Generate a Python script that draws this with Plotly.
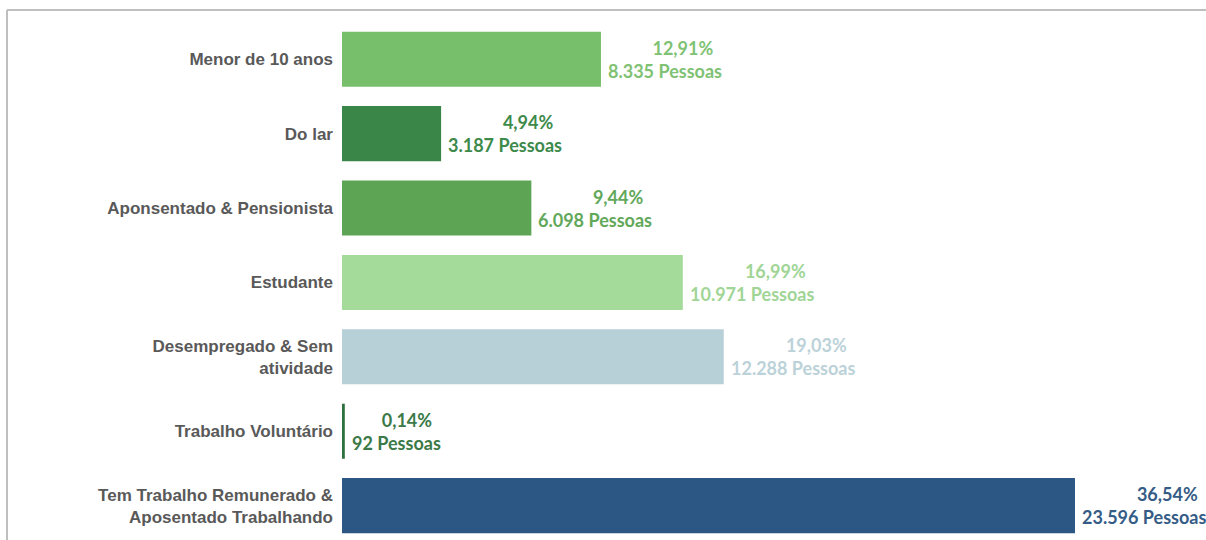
import plotly.graph_objects as go

# Occupation breakdown: share of people (%) and headcount per category
categorias = [
    "Menor de 10 anos",
    "Do lar",
    "Aponsentado & Pensionista",
    "Estudante",
    "Desempregado & Sem<br>atividade",
    "Trabalho Voluntário",
    "Tem Trabalho Remunerado &<br>Aposentado Trabalhando",
]
percentuais = [12.91, 4.94, 9.44, 16.99, 19.03, 0.14, 36.54]
pessoas = [8335, 3187, 6098, 10971, 12288, 92, 23596]
cores_barras = ["#78BF6C", "#3A8548", "#5DA555", "#A4DA9A", "#B7D0D7", "#2F7040", "#2C5784"]
cores_rotulos = ["#7FC274", "#3D8A4B", "#62A85A", "#A0D596", "#BCD2D9", "#3B7A48", "#355C86"]


def fmt_pct(v):
    return f"{v:.2f}".replace(".", ",") + "%"


def fmt_int(v):
    return f"{v:,}".replace(",", ".")


idx = list(range(len(categorias)))

fig = go.Figure(
    go.Bar(
        x=percentuais,
        y=idx,
        orientation="h",
        marker=dict(color=cores_barras, line=dict(width=0)),
        width=0.74,
        hoverinfo="skip",
    )
)

# Two-line value labels to the right of each bar
for i, (p, n, c) in enumerate(zip(percentuais, pessoas, cores_rotulos)):
    fig.add_annotation(
        x=p,
        y=i,
        xref="x",
        yref="y",
        text=f"{fmt_pct(p)}\u00a0\u00a0<br>{fmt_int(n)} Pessoas",
        showarrow=False,
        xanchor="left",
        yanchor="middle",
        xshift=5,
        align="right",
        font=dict(family="Lato", size=18, color=c, weight=700),
    )

# Light grey frame along the top and left edges
x_left = (7 - 342) / 864
y_top = 1 + 12 / 518
fig.add_shape(type="line", xref="paper", yref="paper", x0=x_left, x1=x_left,
              y0=-0.1, y1=y_top, line=dict(color="#BFBFBF", width=2))
fig.add_shape(type="line", xref="paper", yref="paper", x0=x_left, x1=1.1,
              y0=y_top, y1=y_top, line=dict(color="#BFBFBF", width=2))

fig.update_layout(
    width=1206,
    height=540,
    margin=dict(l=342, r=0, t=22, b=0),
    paper_bgcolor="white",
    plot_bgcolor="white",
    showlegend=False,
    hovermode=False,
    xaxis=dict(range=[0, 864 / 20.06], visible=False, fixedrange=True),
    yaxis=dict(
        range=[6.462, -0.5],
        tickmode="array",
        tickvals=idx,
        ticktext=categorias,
        showgrid=False,
        showline=False,
        zeroline=False,
        ticks="",
        ticklabelstandoff=8,
        tickfont=dict(family="Liberation Sans", size=17, color="#595959", weight=700),
        fixedrange=True,
    ),
)

fig.write_html("out.html", config={"displayModeBar": False})
